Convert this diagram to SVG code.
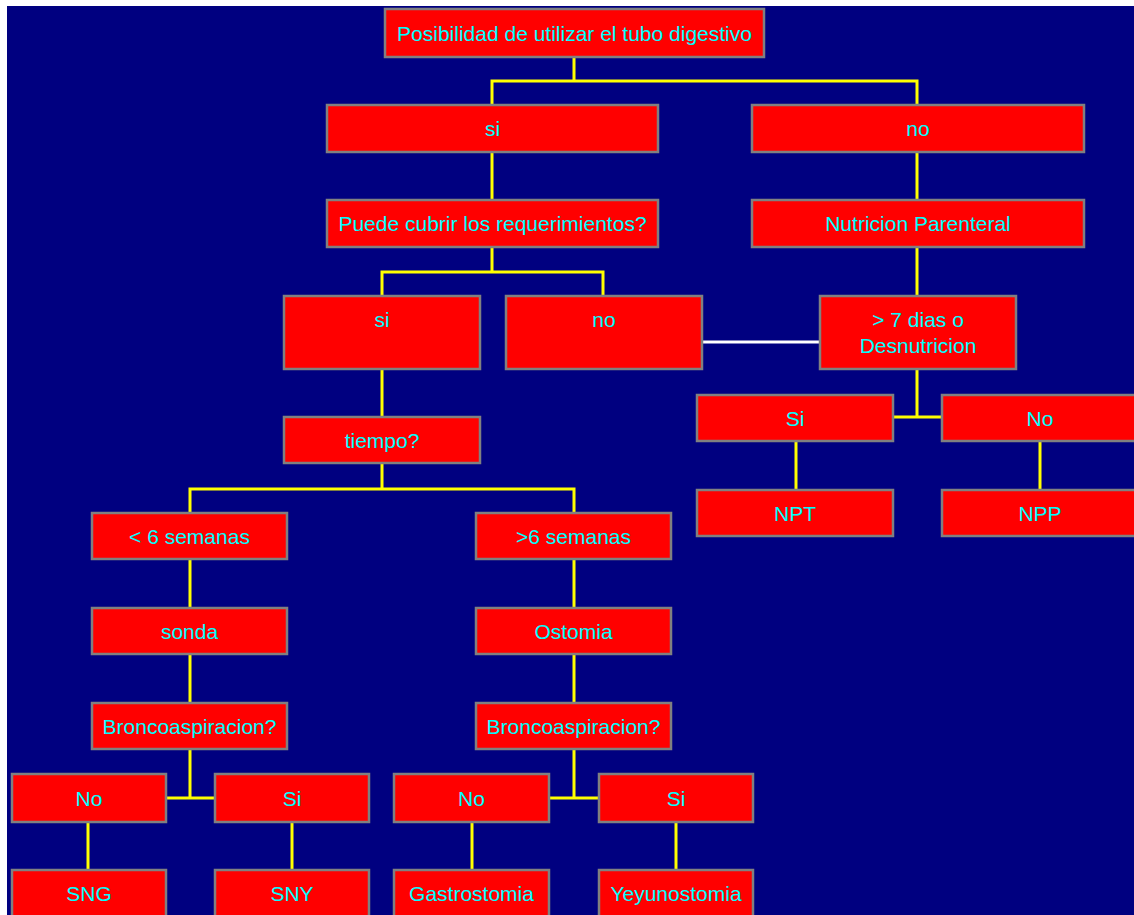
<svg xmlns="http://www.w3.org/2000/svg" width="1134" height="915" viewBox="0 0 1134 915">
  <style>
    .box rect { fill: #FF0000; stroke: #808080; stroke-width: 2.5; }
    .box text { fill: #00FFFF; font-family: "Liberation Sans", Arial, sans-serif; font-size: 21px; text-anchor: middle; }
    .link { fill: none; stroke: #FFFF00; stroke-width: 3; }
    .link-alt { fill: none; stroke: #FFFFFF; stroke-width: 3; }
  </style>

  <!-- page background -->
  <rect x="0" y="0" width="1134" height="915" fill="#FFFFFF"/>
  <rect x="7" y="6" width="1127" height="909" fill="#000080"/>

  <!-- connectors -->
  <g id="connectors">
    <path class="link" d="M574 57V81 M492 105V81H917V105"/>
    <path class="link" d="M492 152V200"/>
    <path class="link" d="M917 152V200"/>
    <path class="link" d="M492 247V272 M382 296V272H603V296"/>
    <path class="link" d="M917 247V296"/>
    <path class="link-alt" d="M702 342H820"/>
    <path class="link" d="M917 369V417 M893 417H942"/>
    <path class="link" d="M796 441V490"/>
    <path class="link" d="M1040 441V490"/>
    <path class="link" d="M382 369V417"/>
    <path class="link" d="M382 463V489 M190 513V489H574V513"/>
    <path class="link" d="M190 559V608"/>
    <path class="link" d="M190 654V703"/>
    <path class="link" d="M190 749V798 M166 798H215"/>
    <path class="link" d="M88 822V870"/>
    <path class="link" d="M292 822V870"/>
    <path class="link" d="M574 559V608"/>
    <path class="link" d="M574 654V703"/>
    <path class="link" d="M574 749V798 M549 798H599"/>
    <path class="link" d="M472 822V870"/>
    <path class="link" d="M676 822V870"/>
  </g>

  <!-- nodes -->
  <g id="n-root" class="box"><rect x="385" y="9" width="379" height="48"/><text x="574.5" y="40.5">Posibilidad de utilizar el tubo digestivo</text></g>
  <g id="n-si" class="box"><rect x="327" y="105" width="331" height="47"/><text x="492.5" y="136">si</text></g>
  <g id="n-no" class="box"><rect x="752" y="105" width="332" height="47"/><text x="918" y="136">no</text></g>
  <g id="n-req" class="box"><rect x="327" y="200" width="331" height="47"/><text x="492.5" y="231">Puede cubrir los requerimientos?</text></g>
  <g id="n-np" class="box"><rect x="752" y="200" width="332" height="47"/><text x="918" y="231">Nutricion Parenteral</text></g>
  <g id="n-req-si" class="box"><rect x="284" y="296" width="196" height="73"/><text x="382" y="327">si</text></g>
  <g id="n-req-no" class="box"><rect x="506" y="296" width="196" height="73"/><text x="604" y="327">no</text></g>
  <g id="n-dias" class="box"><rect x="820" y="296" width="196" height="73"/><text x="918" y="326.5">&gt; 7 dias o</text><text x="918" y="352.5">Desnutricion</text></g>
  <g id="n-np-si" class="box"><rect x="697" y="395" width="196" height="46"/><text x="795" y="425.5">Si</text></g>
  <g id="n-np-no" class="box"><rect x="942" y="395" width="196" height="46"/><text x="1040" y="425.5">No</text></g>
  <g id="n-npt" class="box"><rect x="697" y="490" width="196" height="46"/><text x="795" y="520.5">NPT</text></g>
  <g id="n-npp" class="box"><rect x="942" y="490" width="196" height="46"/><text x="1040" y="520.5">NPP</text></g>
  <g id="n-tiempo" class="box"><rect x="284" y="417" width="196" height="46"/><text x="382" y="447.5">tiempo?</text></g>
  <g id="n-menos6" class="box"><rect x="92" y="513" width="195" height="46"/><text x="189.5" y="543.5">&lt; 6 semanas</text></g>
  <g id="n-mas6" class="box"><rect x="476" y="513" width="195" height="46"/><text x="573.5" y="543.5">&gt;6 semanas</text></g>
  <g id="n-sonda" class="box"><rect x="92" y="608" width="195" height="46"/><text x="189.5" y="638.5">sonda</text></g>
  <g id="n-ostomia" class="box"><rect x="476" y="608" width="195" height="46"/><text x="573.5" y="638.5">Ostomia</text></g>
  <g id="n-bronco1" class="box"><rect x="92" y="703" width="195" height="46"/><text x="189.5" y="733.5">Broncoaspiracion?</text></g>
  <g id="n-bronco2" class="box"><rect x="476" y="703" width="195" height="46"/><text x="573.5" y="733.5">Broncoaspiracion?</text></g>
  <g id="n-b1-no" class="box"><rect x="12" y="774" width="154" height="48"/><text x="89" y="805.5">No</text></g>
  <g id="n-b1-si" class="box"><rect x="215" y="774" width="154" height="48"/><text x="292" y="805.5">Si</text></g>
  <g id="n-b2-no" class="box"><rect x="394" y="774" width="155" height="48"/><text x="471.5" y="805.5">No</text></g>
  <g id="n-b2-si" class="box"><rect x="599" y="774" width="154" height="48"/><text x="676" y="805.5">Si</text></g>
  <g id="n-sng" class="box"><rect x="12" y="870" width="154" height="47"/><text x="89" y="900.5">SNG</text></g>
  <g id="n-sny" class="box"><rect x="215" y="870" width="154" height="47"/><text x="292" y="900.5">SNY</text></g>
  <g id="n-gastro" class="box"><rect x="394" y="870" width="155" height="47"/><text x="471.5" y="900.5">Gastrostomia</text></g>
  <g id="n-yeyuno" class="box"><rect x="599" y="870" width="154" height="47"/><text x="676" y="900.5">Yeyunostomia</text></g>
</svg>
